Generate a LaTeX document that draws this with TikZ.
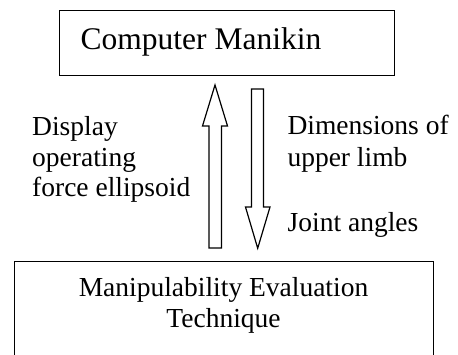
\documentclass[tikz,border=0pt]{standalone}
\usepackage{fontspec}
\setmainfont{LiberationSerif}[Extension=.ttf,UprightFont=*-Regular,BoldFont=*-Bold]
\begin{document}
\begin{tikzpicture}[x=1pt,y=1pt,
  box/.style={draw,line width=1.2pt,inner sep=0pt},
  lbl/.style={inner sep=0pt,font=\fontsize{27.5}{31}\selectfont},
  fat/.style={draw,line width=1.2pt,line join=miter}]
\useasboundingbox (0,0) rectangle (458,355);
\clip (0,0) rectangle (458,355);
% top box
\node[box,minimum width=335pt,minimum height=65pt,anchor=north west] (top) at (59,345) {};
\node[inner sep=0pt,anchor=base west,font=\fontsize{31.5}{35}\selectfont] (toptxt) at (80.5,305.5) {Computer Manikin};
% bottom box (extends below the picture)
\node[box,minimum width=419pt,minimum height=130pt,anchor=north west] (bot) at (14,94) {};
\node[lbl,anchor=base] (bottxt) at (223.5,58) {Manipulability Evaluation};
\node[lbl,anchor=base] (bottxt2) at (223.5,27) {Technique};
% up arrow
\draw[fat] (209,107) -- (209,229) -- (202.5,229) -- (215,270) -- (227.5,229) -- (221.5,229) -- (221.5,107) -- cycle;
% down arrow
\draw[fat] (251.5,266) -- (251.5,148) -- (245.5,148) -- (257.7,106.7) -- (270,148) -- (263.5,148) -- (263.5,266) -- cycle;
% labels
\node[lbl,anchor=base west] (d1) at (32,219.3) {Display};
\node[lbl,anchor=base west] (d2) at (32,188.3) {operating};
\node[lbl,anchor=base west] (d3) at (32,158.3) {force ellipsoid};
\node[lbl,anchor=base west] (m1) at (287.3,220) {Dimensions of};
\node[lbl,anchor=base west] (m2) at (287.3,188.3) {upper limb};
\node[lbl,anchor=base west] (j1) at (287.5,123.5) {Joint angles};
\end{tikzpicture}
\end{document}
